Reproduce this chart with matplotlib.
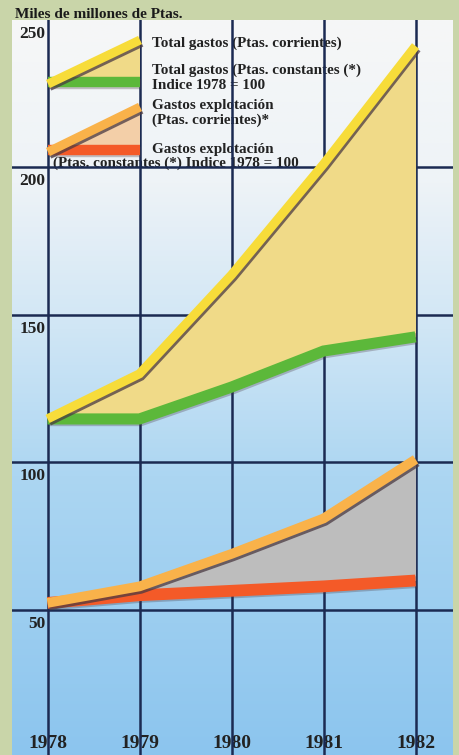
import numpy as np
import matplotlib
matplotlib.use('Agg')
import matplotlib.pyplot as plt
from matplotlib import patheffects as pe
from matplotlib.colors import LinearSegmentedColormap
from matplotlib.transforms import Affine2D, blended_transform_factory

# ---------------- data (miles de millones de Ptas.) ----------------
years = [1978, 1979, 1980, 1981, 1982]
total_corrientes = [114.7, 130.0, 163.5, 201.0, 241.0]
total_constantes = [114.7, 114.7, 125.5, 137.7, 142.5]
explot_corrientes = [52.4, 58.0, 69.0, 81.0, 101.0]
explot_constantes = [52.4, 55.0, 56.5, 58.0, 60.0]
y_ticks = [50, 100, 150, 200, 250]
y_tick_labels = ['50', '100', '150', '200', '250']
year_labels = ['1978', '1979', '1980', '1981', '1982']
title = 'Miles de millones de Ptas.'
legend_lines = [
    ('Total gastos (Ptas. corrientes)', 152, 47),
    ('Total gastos (Ptas. constantes (*)', 152, 74),
    ('Indice 1978 = 100', 152, 89),
    ('Gastos explotación', 152, 109),
    ('(Ptas. corrientes)*', 152, 124),
    ('Gastos explotación', 152, 153),
    ('(Ptas. constantes (*) Indice 1978 = 100', 53, 167),
]

# ---------------- style ----------------
W, H = 459, 755
FONT = 'Liberation Serif'
GRID = '#1b2a52'
YELLOW = '#f7dc3a'
KHAKI = '#f0da88'
GREEN = '#5cb83a'
ORANGE = '#f9b24a'
RED = '#f45a28'
GREY = '#bdbdbd'
PEACH = '#f3cfa8'
SHADOW = '#4a3a42'

fig = plt.figure(figsize=(W / 100, H / 100), dpi=100, facecolor='#c9d5a9')
ax = fig.add_axes([12 / W, 0, 441 / W, 735 / H])
x0, x1 = 1977.614, 1982.407
y0, y1 = 0.9, 249.8
ax.set_xlim(x0, x1)
ax.set_ylim(y0, y1)
ax.axis('off')

# pixel (top-left origin) transform for layout items
px = Affine2D().scale(1 / W, -1 / H).translate(0, 1) + fig.transFigure

# background gradient
grad = np.linspace(0, 1, 256)[:, None]
cmap = LinearSegmentedColormap.from_list(
    'bg', [(0, '#f6f7f7'), (0.22, '#eef3f7'), (0.42, '#d0e6f5'),
           (0.62, '#acd6f2'), (1, '#8cc5ee')])
ax.imshow(grad, extent=[x0, x1, y0, y1], origin='upper', aspect='auto',
          cmap=cmap, zorder=0)

# grid
for v in y_ticks[:-1]:
    ax.axhline(v, color=GRID, lw=1.8, zorder=3)
for yr in years:
    ax.axvline(yr, color=GRID, lw=1.8, zorder=3)

# tick labels
for v, lab in zip(y_ticks, y_tick_labels):
    ax.annotate(lab, xy=(years[0], min(v, y1)), xytext=(-2, -18),
                textcoords='offset pixels', ha='right', va='baseline',
                fontfamily=FONT, fontweight='bold', fontsize=12.5,
                color='#222222', zorder=2)
bt = blended_transform_factory(ax.transData, ax.transAxes)
for yr, lab in zip(years, year_labels):
    ax.text(yr, 7 / 735, lab, transform=bt, ha='center', va='baseline',
            fontfamily=FONT, fontweight='bold', fontsize=14,
            color='#222222', zorder=2)

# title
fig.text(15 / W, 1 - 18 / H, title, ha='left', va='baseline',
         fontfamily=FONT, fontweight='bold', fontsize=11, color='#1a1a1a')

# legend text
for txt, lx, ly in legend_lines:
    ax.text(lx, ly, txt, transform=px, ha='left', va='baseline',
            fontfamily=FONT, fontweight='bold', fontsize=10.9,
            color='#222222', zorder=2)

shadow_fx = [pe.SimpleLineShadow(offset=(1.0, -1.8), shadow_color=SHADOW,
                                 alpha=0.75), pe.Normal()]
soft_fx = [pe.SimpleLineShadow(offset=(1.0, -1.2), shadow_color=SHADOW,
                               alpha=0.3), pe.Normal()]

# ---------------- main series ----------------
ax.fill_between(years, total_constantes, total_corrientes, color=KHAKI,
                lw=0, zorder=4)
ax.fill_between(years, explot_constantes, explot_corrientes, color=GREY,
                lw=0, zorder=4)
ax.plot(years, total_constantes, color=GREEN, lw=8, solid_capstyle='butt',
        solid_joinstyle='miter', zorder=5, path_effects=soft_fx)
ax.plot(years, total_corrientes, color=YELLOW, lw=6.5, solid_capstyle='butt',
        solid_joinstyle='miter', zorder=6, path_effects=shadow_fx)
ax.plot(years, explot_constantes, color=RED, lw=8.5, solid_capstyle='butt',
        solid_joinstyle='miter', zorder=5, path_effects=soft_fx)
ax.plot(years, explot_corrientes, color=ORANGE, lw=7, solid_capstyle='butt',
        solid_joinstyle='miter', zorder=6, path_effects=shadow_fx)

# ---------------- legend swatches ----------------
def swatch(top_col, bot_col, fill_col, ytl, ytr, yb):
    ax.fill([48, 140, 140], [ytl + 1, ytr, yb], transform=px, color=fill_col,
            lw=0, zorder=4)
    ax.plot([48, 140], [yb, yb], transform=px, color=bot_col, lw=7.5,
            solid_capstyle='butt', zorder=5, path_effects=soft_fx)
    ax.plot([48, 140], [ytl, ytr], transform=px, color=top_col, lw=6.5,
            solid_capstyle='butt', zorder=6, path_effects=shadow_fx)

swatch(YELLOW, GREEN, KHAKI, 84, 40, 82)
swatch(ORANGE, RED, PEACH, 152, 107, 150)

fig.savefig('out.png', dpi=100, facecolor=fig.get_facecolor())
